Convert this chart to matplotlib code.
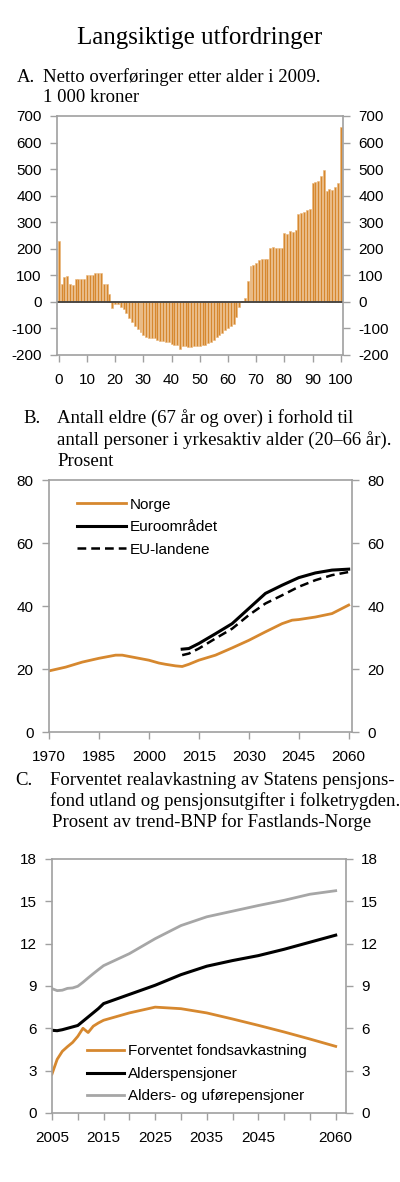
import numpy as np
import matplotlib
matplotlib.use('Agg')
import matplotlib.pyplot as plt

plt.rcParams['font.family'] = ['Liberation Sans', 'DejaVu Sans']
plt.rcParams['axes.unicode_minus'] = False

# A: netto overføringer etter alder, 1000 kr
alder = list(range(0, 101))
overforing = [228, 67, 92, 98, 67, 62, 85, 85, 85, 87, 100, 100, 102, 110, 110, 110, 67, 67, 28,
              -22, -10, -10, -18, -28, -42, -60, -75, -90, -104, -115, -125, -132, -135, -137, -138,
              -145, -146, -147, -150, -153, -158, -161, -163, -178, -166, -168, -170, -170, -167,
              -166, -165, -163, -161, -155, -150, -142, -134, -125, -117, -107, -98, -90, -82, -57, -21,
              5, 15, 80, 135, 137, 148, 157, 160, 160, 163,
              203, 205, 201, 204, 204, 260, 255, 266, 264, 270,
              330, 333, 338, 345, 350, 446, 450, 456, 474, 495,
              418, 424, 422, 434, 449, 657]

# B: eldre i forhold til yrkesaktive
aar_norge = [1970, 1975, 1980, 1985, 1988, 1990, 1992, 1995, 2000, 2003, 2005, 2008, 2010, 2012,
             2015, 2020, 2025, 2030, 2035, 2040, 2043, 2045, 2050, 2055, 2060]
norge = [19.4, 20.6, 22.2, 23.4, 24.0, 24.4, 24.4, 23.8, 22.8, 21.9, 21.5, 21.0, 20.8, 21.5,
         22.8, 24.4, 26.7, 29.1, 31.8, 34.4, 35.5, 35.7, 36.5, 37.6, 40.3]
aar_eu = [2010, 2012, 2015, 2020, 2025, 2030, 2035, 2040, 2045, 2050, 2055, 2060]
euro = [26.3, 26.5, 28.1, 31.2, 34.4, 39.2, 44.0, 46.6, 49.0, 50.5, 51.4, 51.7]
eu = [24.4, 24.9, 26.5, 29.7, 32.8, 37.1, 40.8, 43.4, 46.1, 48.2, 49.8, 50.8]

# C: fondsavkastning og pensjonsutgifter, prosent av trend-BNP
aar_c = [2005, 2006, 2007, 2008, 2009, 2010, 2011, 2012, 2013, 2014, 2015, 2020, 2025, 2030,
         2035, 2040, 2045, 2050, 2055, 2060]
fond = [2.76, 3.8, 4.37, 4.7, 5.0, 5.43, 6.0, 5.7, 6.15, 6.38, 6.57, 7.09, 7.5, 7.39,
        7.09, 6.66, 6.21, 5.74, 5.24, 4.72]
alderspensjon = [5.86, 5.83, 5.9, 6.0, 6.1, 6.2, 6.5, 6.8, 7.1, 7.4, 7.75, 8.4, 9.05, 9.8,
                 10.4, 10.8, 11.15, 11.6, 12.1, 12.6]
ufore = [8.81, 8.67, 8.7, 8.83, 8.86, 8.98, 9.26, 9.57, 9.87, 10.16, 10.44, 11.29, 12.35, 13.28,
         13.9, 14.3, 14.7, 15.07, 15.5, 15.75]

orange = '#d6882f'
grey_line = '#a6a6a6'
spine_col = '#a0a0a0'
fs = 11
serif = 'Liberation Serif'
tfs = 13.5
H = 1182.0


def style(ax, yticks):
    for s in ['top', 'bottom', 'left', 'right']:
        ax.spines[s].set_color(spine_col)
        ax.spines[s].set_linewidth(1.2)
    ax.set_yticks(yticks)
    ax.tick_params(axis='both', colors=spine_col, labelcolor='black', labelsize=fs,
                   length=5, width=1.0, direction='out')
    ax.tick_params(axis='y', right=True, labelright=True, pad=6)
    ax.tick_params(axis='x', pad=8)


def lines(x, y0, txts, step):
    # one fig.text per line, y0 = baseline of first line in pixels from top
    for i, t in enumerate(txts):
        xx = x[i] if isinstance(x, list) else x
        fig.text(xx / 400, 1 - (y0 + i * step) / H, t, family=serif, fontsize=tfs, va='baseline')


fig = plt.figure(figsize=(4, 11.82), dpi=100)

fig.text(0.5, 1 - 44 / H, 'Langsiktige utfordringer', ha='center', va='baseline',
         family=serif, fontsize=18)

# panel A
lines(17, 82, ['A.'], 20)
lines(43, 82, ['Netto overføringer etter alder i 2009.', '1 000 kroner'], 20)
axA = fig.add_axes([0.1425, 0.6997, 0.715, 0.2022])
axA.bar(alder, overforing, width=0.7, color=orange, edgecolor='#e9b57a', linewidth=0.4)
axA.axhline(0, color='#404040', linewidth=1.3)
axA.set_xlim(-0.6, 100.8)
axA.set_ylim(-200, 700)
axA.set_xticks(range(0, 101, 10))
style(axA, range(-200, 701, 100))

# panel B
lines(23, 423, ['B.'], 21.5)
lines(57, 423, ['Antall eldre (67 år og over) i forhold til',
                'antall personer i yrkesaktiv alder (20–66 år).',
                'Prosent'], 21.5)
axB = fig.add_axes([0.1225, 0.3807, 0.7575, 0.2132])
axB.plot(aar_norge, norge, color=orange, linewidth=2, label='Norge')
axB.plot(aar_eu, euro, color='black', linewidth=2.2, label='Euroområdet')
axB.plot(aar_eu, eu, color='black', linewidth=1.8, linestyle=(0, (3.5, 2)), label='EU-landene')
axB.set_xlim(1970, 2061)
axB.set_ylim(0, 80)
axB.set_xticks(range(1970, 2061, 15))
style(axB, range(0, 81, 20))
axB.legend(loc='center left', frameon=False, fontsize=fs, handlelength=3.2,
           bbox_to_anchor=(0.092, 0.813), borderpad=0, borderaxespad=0,
           labelspacing=0.55, handletextpad=0.25)

# panel C
lines(15, 785, ['C.'], 21)
lines([50, 50, 52], 785, ['Forventet realavkastning av Statens pensjons-',
                          'fond utland og pensjonsutgifter i folketrygden.',
                          'Prosent av trend-BNP for Fastlands-Norge'], 21)
axC = fig.add_axes([0.13, 0.0584, 0.735, 0.2149])
axC.plot(aar_c, fond, color=orange, linewidth=2, label='Forventet fondsavkastning')
axC.plot(aar_c, alderspensjon, color='black', linewidth=2.2, label='Alderspensjoner')
axC.plot(aar_c, ufore, color=grey_line, linewidth=2, label='Alders- og uførepensjoner')
axC.set_xlim(2005, 2062)
axC.set_ylim(0, 18)
axC.set_xticks(range(2005, 2061, 5))
axC.set_xticklabels(['2005', '', '2015', '', '2025', '', '2035', '', '2045', '', '', '2060'])
style(axC, range(0, 19, 3))
axC.legend(loc='center left', frameon=False, fontsize=fs, handlelength=2.4,
           bbox_to_anchor=(0.119, 0.154), borderpad=0, borderaxespad=0,
           labelspacing=0.55, handletextpad=0.3)

fig.savefig('out.png', dpi=100)
